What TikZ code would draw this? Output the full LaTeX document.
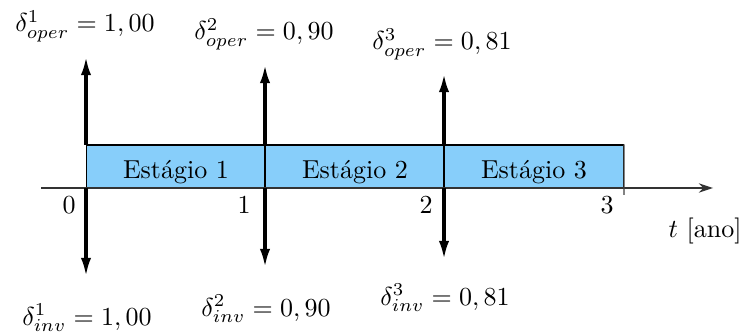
\documentclass[tikz,border=0pt]{standalone}
\usetikzlibrary{arrows.meta}
\definecolor{stagefill}{RGB}{135,206,250}
\begin{document}
\begin{tikzpicture}[x=0.013514cm, y=-0.013514cm,
  stagebox/.style={draw=black, fill=stagefill, line width=0.4pt, inner sep=0pt,
    minimum width=2.419cm, minimum height=0.581cm},
  bigarrow/.style={line width=1.2pt, -{Latex[length=7pt,width=4pt]}},
  axisline/.style={line width=0.45pt, draw=black!80, -{Stealth[length=5.5pt,width=3.6pt]}},
  lbl/.style={inner sep=0pt, anchor=base},
  ticklbl/.style={inner sep=0pt, anchor=base}]
\useasboundingbox (0,0) rectangle (740,333);
% time points
\coordinate (t0) at (86,188);
\coordinate (t1) at (265,188);
\coordinate (t2) at (444,188);
\coordinate (t3) at (624,188);
\coordinate (axs) at (41,188);
\coordinate (axe) at (713,188);
% stage boxes
\node[stagebox] (s1) at (175.5,166.5) {};
\node[stagebox] (s2) at (354.5,166.5) {};
\node[stagebox] (s3) at (534,166.5) {};
\node[lbl] (e1) at (176,179) {Estágio 1};
\node[lbl] (e2) at (355,179) {Estágio 2};
\node[lbl] (e3) at (534,179) {Estágio 3};
% axis
\draw[axisline] (axs) -- (axe);
\coordinate (t3b) at (624,195);
\draw[line width=0.4pt, draw=black!75] (s3.north east) -- (t3b);
% tick labels
\node[ticklbl] (n0) at (69,214) {0};
\node[ticklbl] (n1) at (244,214) {1};
\node[ticklbl] (n2) at (426,214) {2};
\node[ticklbl] (n3) at (607,214) {3};
\node[ticklbl] (tl) at (705,238) {$t$ [ano]};
% up arrows
\coordinate (u0) at (86,145);
\coordinate (u1) at (265,145);
\coordinate (u2) at (444,145);
\coordinate (ut0) at (86,57);
\coordinate (ut1) at (265,65);
\coordinate (ut2) at (444,74);
\draw[bigarrow] (u0) -- (ut0);
\draw[bigarrow] (u1) -- (ut1);
\draw[bigarrow] (u2) -- (ut2);
% down arrows
\coordinate (dt0) at (86,276);
\coordinate (dt1) at (265,267);
\coordinate (dt2) at (444,259);
\draw[bigarrow] (t0) -- (dt0);
\draw[bigarrow] (t1) -- (dt1);
\draw[bigarrow] (t2) -- (dt2);
% labels
\node[lbl] (o1) at (85,32) {$\delta^1_{oper} = 1,00$};
\node[lbl] (o2) at (264,40) {$\delta^2_{oper} = 0,90$};
\node[lbl] (o3) at (442,50) {$\delta^3_{oper} = 0,81$};
\node[lbl] (i1) at (87,325) {$\delta^1_{inv} = 1,00$};
\node[lbl] (i2) at (266,316) {$\delta^2_{inv} = 0,90$};
\node[lbl] (i3) at (445,305) {$\delta^3_{inv} = 0,81$};
\end{tikzpicture}
\end{document}
